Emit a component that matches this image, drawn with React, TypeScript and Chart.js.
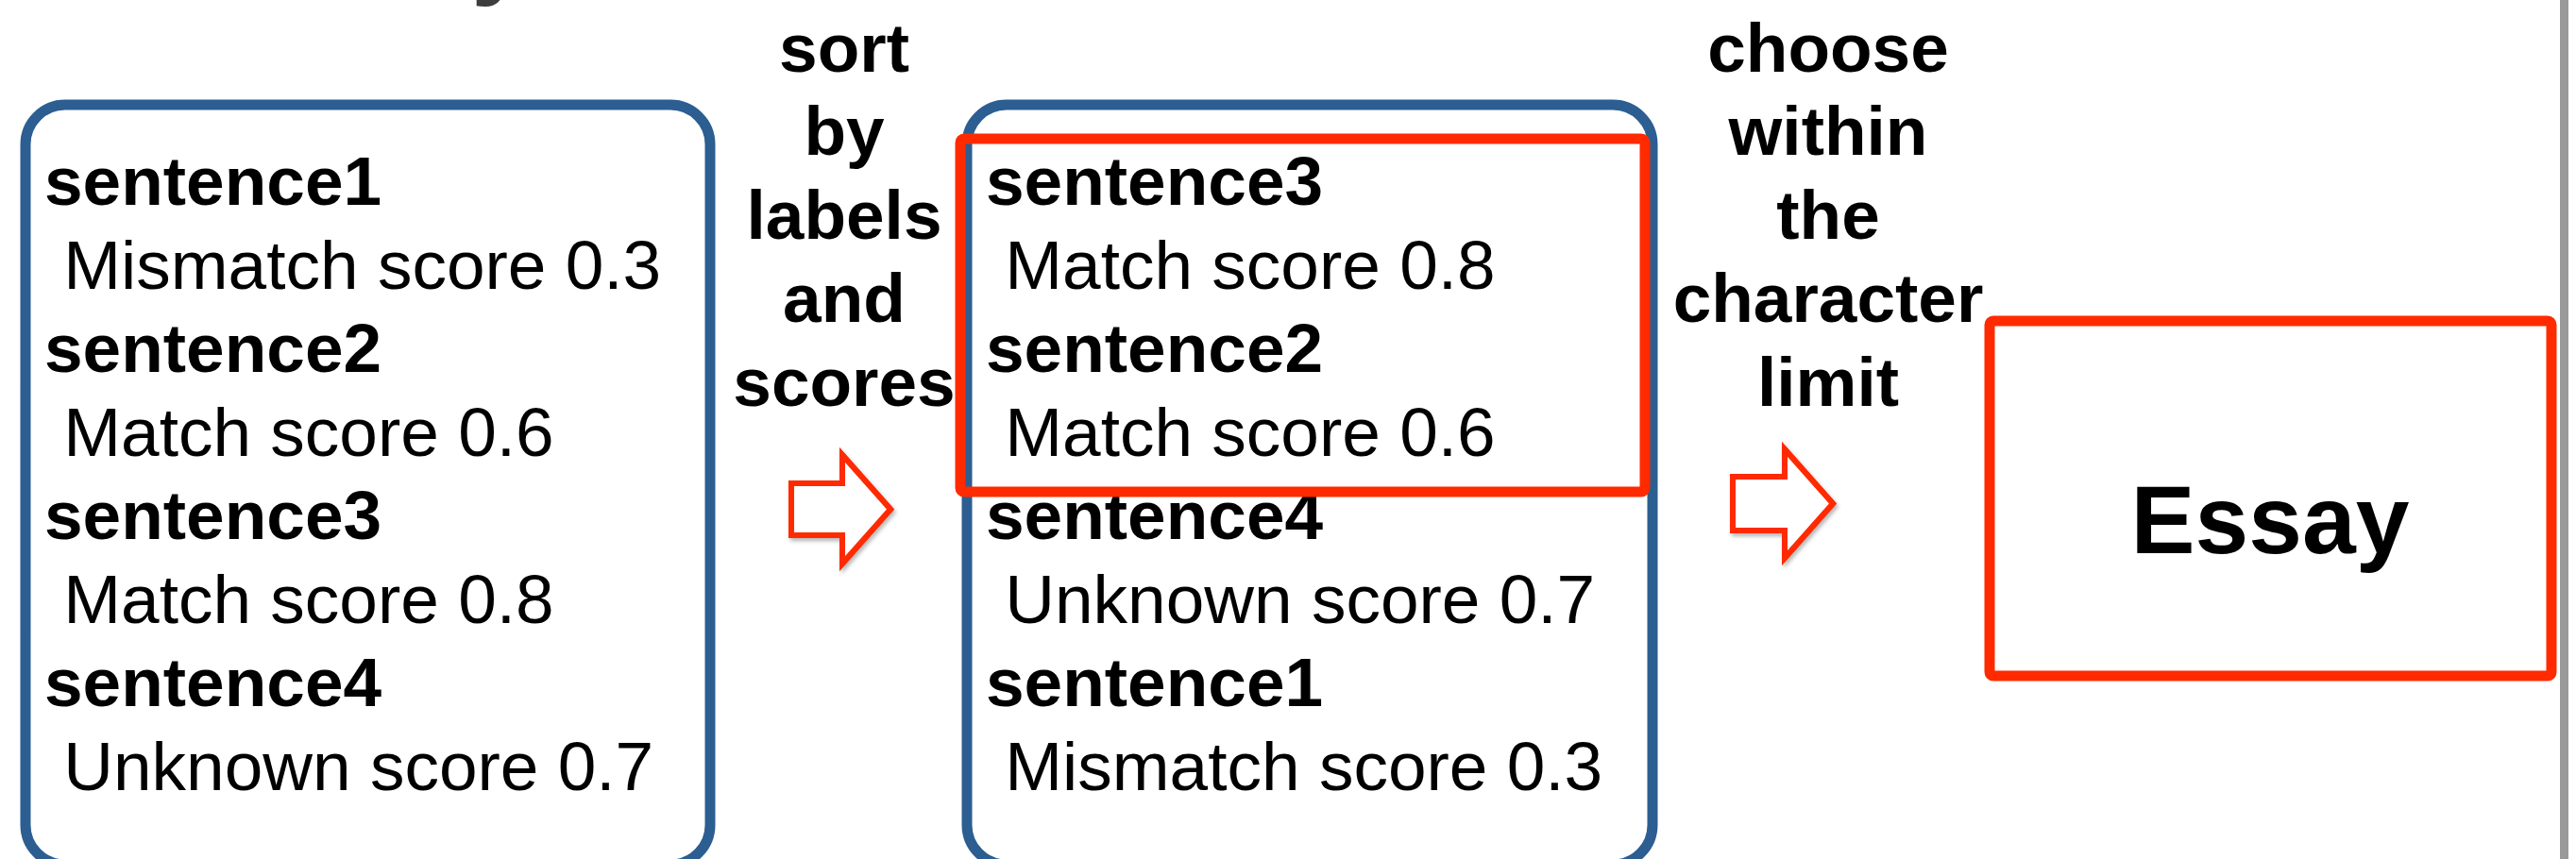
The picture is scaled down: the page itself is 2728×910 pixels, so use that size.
import React, { useEffect, useRef } from "react";
import { Chart, registerables } from "chart.js";

Chart.register(...registerables);

// ---- content data ----
const sentenceNames = ["sentence1", "sentence2", "sentence3", "sentence4"];
const matchLabels = ["Mismatch", "Match", "Match", "Unknown"];
const scores = [0.3, 0.6, 0.8, 0.7];
const labelRank = ["Match", "Unknown", "Mismatch"];
const selectedCount = 2;
const sortStepWords = ["sort", "by", "labels", "and", "scores"];
const chooseStepWords = ["choose", "within", "the", "character", "limit"];
const outputName = "Essay";
const cutTitleText = "y";

const W = 2728;
const H = 910;
const FONT = '"Liberation Sans", Arial, Helvetica, sans-serif';
const BLUE = "#2C5E91";
const RED = "#FF2A00";

function sortedIndices(): number[] {
  const idx = sentenceNames.map((_, i) => i);
  idx.sort((a, b) => {
    const ra = labelRank.indexOf(matchLabels[a]);
    const rb = labelRank.indexOf(matchLabels[b]);
    if (ra !== rb) return ra - rb;
    return scores[b] - scores[a];
  });
  return idx;
}

const diagramPlugin = {
  id: "diagram",
  afterDraw(chart: any) {
    const ctx: CanvasRenderingContext2D = chart.ctx;
    const xs = chart.scales.x;
    const ys = chart.scales.y;
    const X = (v: number) => xs.getPixelForValue(v);
    const Y = (v: number) => ys.getPixelForValue(v);

    ctx.save();
    ctx.fillStyle = "#ffffff";
    ctx.fillRect(X(0), Y(0), X(W) - X(0), Y(H) - Y(0));

    // cut-off title glyph at very top
    ctx.fillStyle = "#3d3d3d";
    ctx.font = `bold 110px ${FONT}`;
    ctx.textAlign = "left";
    ctx.textBaseline = "alphabetic";
    ctx.fillText(cutTitleText, X(499), Y(-16));

    const rowBase = (i: number) => 217 + 88.5 * i;

    const drawList = (order: number[], x0: number) => {
      ctx.fillStyle = "#000";
      ctx.textAlign = "left";
      order.forEach((si, k) => {
        ctx.font = `bold 73px ${FONT}`;
        ctx.fillText(sentenceNames[si], X(x0), Y(rowBase(2 * k)));
        ctx.font = `73px ${FONT}`;
        ctx.fillText(
          ` ${matchLabels[si]} score ${scores[si].toFixed(1)}`,
          X(x0),
          Y(rowBase(2 * k + 1))
        );
      });
    };

    const blueBox = (x1: number, y1: number, x2: number, y2: number) => {
      ctx.strokeStyle = BLUE;
      ctx.lineWidth = 11;
      ctx.beginPath();
      (ctx as any).roundRect(X(x1), Y(y1), X(x2) - X(x1), Y(y2) - Y(y1), 42);
      ctx.stroke();
    };

    // left box
    blueBox(27, 111, 752, 916);
    drawList(sentenceNames.map((_, i) => i), 47);

    // middle box
    blueBox(1024, 111, 1750, 916);
    const order = sortedIndices();
    drawList(order, 1044);

    // red selection rectangle
    ctx.strokeStyle = RED;
    ctx.lineWidth = 11;
    ctx.lineJoin = "round";
    ctx.beginPath();
    const selTop = 147;
    const selBottom = rowBase(2 * selectedCount) - 50;
    (ctx as any).roundRect(X(1017), Y(selTop), X(1742) - X(1017), Y(selBottom) - Y(selTop), 4);
    ctx.stroke();

    // step texts
    const stepText = (words: string[], cx: number) => {
      ctx.fillStyle = "#000";
      ctx.font = `bold 73px ${FONT}`;
      ctx.textAlign = "center";
      words.forEach((w, i) => ctx.fillText(w, X(cx), Y(76 + 88.4 * i)));
    };
    stepText(sortStepWords, 894);
    stepText(chooseStepWords, 1936);

    // hollow arrows
    const arrowPath = (
      sx: number, hx: number, tx: number,
      sTop: number, sBot: number, hTop: number, hBot: number
    ) => {
      const ty = (hTop + hBot) / 2;
      ctx.beginPath();
      ctx.moveTo(X(sx), Y(sTop));
      ctx.lineTo(X(hx), Y(sTop));
      ctx.lineTo(X(hx), Y(hTop));
      ctx.lineTo(X(tx), Y(ty));
      ctx.lineTo(X(hx), Y(hBot));
      ctx.lineTo(X(hx), Y(sBot));
      ctx.lineTo(X(sx), Y(sBot));
      ctx.closePath();
    };
    const arrow = (
      sx: number, hx: number, tx: number,
      sTop: number, sBot: number, hTop: number, hBot: number
    ) => {
      ctx.save();
      ctx.shadowColor = "rgba(0,0,0,0.3)";
      ctx.shadowBlur = 4;
      ctx.shadowOffsetX = 2;
      ctx.shadowOffsetY = 3;
      arrowPath(sx, hx, tx, sTop, sBot, hTop, hBot);
      ctx.strokeStyle = RED;
      ctx.lineWidth = 6;
      ctx.lineJoin = "miter";
      ctx.stroke();
      ctx.restore();
      arrowPath(sx, hx, tx, sTop, sBot, hTop, hBot);
      ctx.fillStyle = "#ffffff";
      ctx.fill();
      ctx.strokeStyle = RED;
      ctx.lineWidth = 6;
      ctx.lineJoin = "miter";
      ctx.stroke();
    };
    arrow(838, 892, 943, 512, 567, 482, 597);
    arrow(1835, 1890, 1941, 505, 562, 476, 591);

    // Essay box
    ctx.strokeStyle = RED;
    ctx.lineWidth = 11;
    ctx.lineJoin = "round";
    ctx.beginPath();
    (ctx as any).roundRect(X(2107), Y(340), X(2702) - X(2107), Y(716) - Y(340), 4);
    ctx.stroke();
    ctx.fillStyle = "#000";
    ctx.font = `bold 102px ${FONT}`;
    ctx.textAlign = "center";
    ctx.fillText(outputName, X(2404), Y(586));

    // right gray edge
    ctx.fillStyle = "#9a9a9a";
    ctx.fillRect(X(2711), Y(0), X(2720) - X(2711), Y(H) - Y(0));

    ctx.restore();
  },
};

export default function App() {
  const ref = useRef<HTMLCanvasElement | null>(null);
  useEffect(() => {
    document.body.style.margin = "0";
    const canvas = ref.current;
    if (!canvas) return;
    const chart = new Chart(canvas, {
      type: "scatter",
      data: {
        datasets: [
          {
            label: "rows",
            data: sentenceNames.map((_, i) => ({ x: 47, y: 217 + 177 * i })),
            pointRadius: 0,
            showLine: false,
          },
        ],
      },
      options: {
        animation: false,
        responsive: false,
        maintainAspectRatio: false,
        layout: { padding: 0 },
        events: [],
        plugins: {
          legend: { display: false },
          tooltip: { enabled: false },
          title: { display: false },
        },
        scales: {
          x: { type: "linear", min: 0, max: W, display: false },
          y: { type: "linear", min: 0, max: H, reverse: true, display: false },
        },
      },
      plugins: [diagramPlugin],
    });
    return () => chart.destroy();
  }, []);
  return (
    <div style={{ width: W, height: H, background: "#fff" }}>
      <canvas ref={ref} width={W} height={H} style={{ display: "block" }} />
    </div>
  );
}
